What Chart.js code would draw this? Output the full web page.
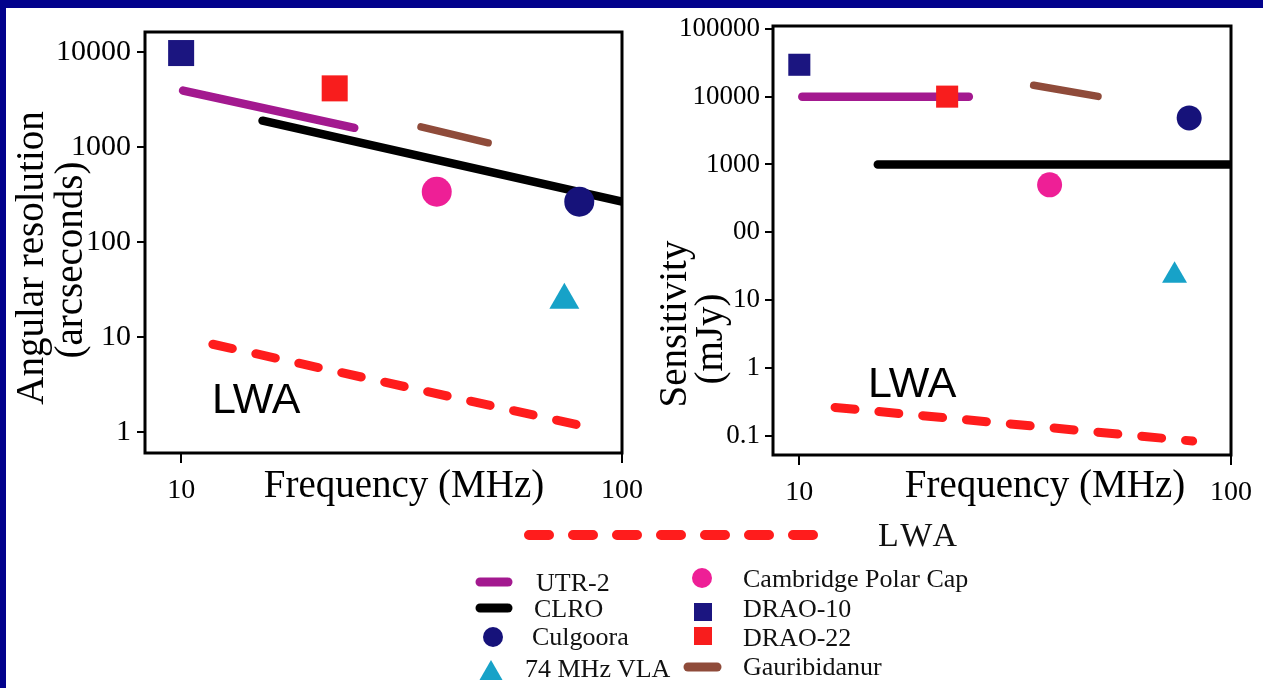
<!DOCTYPE html>
<html>
<head>
<meta charset="utf-8">
<script src="https://cdn.jsdelivr.net/npm/chart.js@4.4.1/dist/chart.umd.min.js"></script>
<style>
  html, body { margin: 0; padding: 0; background: #fff; }
  body { width: 1263px; height: 688px; position: relative; overflow: hidden; }
  #resChart { position: absolute; left: 0; top: 0; }
  #sensChart { position: absolute; left: 645px; top: 0; }
  #legend { position: absolute; left: 0; top: 0; }
  .strip { position: absolute; background: #02028c; }
</style>
</head>
<body>
<canvas id="resChart" width="660" height="520"></canvas>
<canvas id="sensChart" width="618" height="520"></canvas>
<svg id="legend" width="1263" height="688" font-family="'Liberation Serif', 'Times New Roman', serif" fill="#111">
  <line x1="529" y1="535" x2="813" y2="535" stroke="#ff1c1c" stroke-width="10" stroke-linecap="round" stroke-dasharray="20 24"/>
  <text x="878" y="546" font-size="34" letter-spacing="4">LWA</text>

  <line x1="480" y1="582" x2="508" y2="582" stroke="#a3198f" stroke-width="9" stroke-linecap="round"/>
  <text x="536" y="591" font-size="26">UTR-2</text>
  <line x1="480" y1="608" x2="508" y2="608" stroke="#000" stroke-width="9" stroke-linecap="round"/>
  <text x="534" y="617" font-size="26">CLRO</text>
  <circle cx="493" cy="637" r="10" fill="#16127a"/>
  <text x="532" y="645" font-size="26">Culgoora</text>
  <polygon points="491,660 479.5,680 502.5,680" fill="#17a2c8"/>
  <text x="525" y="677" font-size="26">74 MHz VLA</text>

  <circle cx="702" cy="578" r="10" fill="#ee1f96"/>
  <text x="743" y="587" font-size="26">Cambridge Polar Cap</text>
  <rect x="694" y="603" width="18" height="18" fill="#1b1580"/>
  <text x="743" y="617" font-size="26">DRAO-10</text>
  <rect x="694" y="627" width="18" height="18" fill="#f81d1d"/>
  <text x="743" y="646" font-size="26">DRAO-22</text>
  <line x1="688" y1="667" x2="717" y2="667" stroke="#8f4b3a" stroke-width="9" stroke-linecap="round"/>
  <text x="743" y="675" font-size="26">Gauribidanur</text>
</svg>
<div class="strip" style="left:0;top:0;width:1263px;height:8px"></div>
<div class="strip" style="left:0;top:0;width:6px;height:688px"></div>
<script>
// tick values
const freqTicks = [10, 100];
const resTicks = [1, 10, 100, 1000, 10000];
const sensTicks = [0.1, 1, 10, 100, 1000, 10000, 100000];
const sensTickLabels = ['0.1', '1', '10', '00', '1000', '10000', '100000'];

// angular resolution (arcseconds) against frequency (MHz)
const resUtr2Freq = [10.1, 24.7];
const resUtr2 = [3900, 1580];
const resClroFreq = [15.3, 100];
const resClro = [1880, 264];
const resGauriFreq = [35.0, 49.7];
const resGauri = [1620, 1100];
const resLwaFreq = [11.8, 86.6];
const resLwa = [8.36, 1.086];
// single instruments: Culgoora, 74 MHz VLA, Cambridge Polar Cap, DRAO-10, DRAO-22
const resPointFreq = [80, 74, 38, 10, 22.3];
const resPoints = [264, 24.4, 336, 9670, 4110];

// sensitivity (mJy) against frequency (MHz)
const sensUtr2Freq = [10.16, 24.7];
const sensUtr2 = [10000, 10000];
const sensClroFreq = [15.2, 100];
const sensClro = [1000, 1000];
const sensGauriFreq = [34.9, 49.2];
const sensGauri = [14700, 10100];
const sensLwaFreq = [12.1, 81.5];
const sensLwa = [0.261, 0.0835];
const sensPointFreq = [80, 74, 38, 10, 22];
const sensPoints = [4850, 23, 500, 29500, 10000];

const NAVY = '#16127a', SQNAVY = '#1b1580', RED = '#f81d1d', PURPLE = '#a3198f';
const BROWN = '#8f4b3a', PINK = '#ee1f96', CYAN = '#17a2c8', LWARED = '#ff1c1c';
const SERIF = "'Liberation Serif', 'Times New Roman', serif";
const SANS = "'Liberation Sans', Arial, sans-serif";

function xy(fx, fy) {
  return fx.map((f, i) => ({ x: f, y: fy[i] }));
}

function lineSet(label, fx, fy, color, width, dash) {
  return {
    label, data: xy(fx, fy), showLine: true, borderColor: color, borderWidth: width,
    borderCapStyle: 'round', borderDash: dash || [], pointRadius: 0, order: 2
  };
}

function pointSet(label, f, v, color, style, radius) {
  return {
    label, data: [{ x: f, y: v }], showLine: false, pointStyle: style, pointRadius: radius,
    pointBackgroundColor: color, pointBorderWidth: 0, borderColor: color, order: 1
  };
}

function logAxis(min, max, ticks, labels, fontSize, tickLen, pad, fitSize, horizontal) {
  return {
    type: 'logarithmic', min, max,
    afterBuildTicks: s => { s.ticks = ticks.map(v => ({ value: v })); },
    afterFit: s => { if (horizontal) s.height = fitSize; else s.width = fitSize; },
    ticks: {
      autoSkip: false, maxRotation: 0, padding: pad, color: '#000',
      font: { family: SERIF, size: fontSize },
      callback: v => labels[ticks.indexOf(v)]
    },
    grid: { display: true, drawOnChartArea: false, drawTicks: true, tickLength: tickLen, color: '#000', lineWidth: 2 },
    border: { display: false }
  };
}

const frameAndText = {
  id: 'frameAndText',
  afterDraw(chart, args, opts) {
    const ctx = chart.ctx, a = chart.chartArea;
    ctx.save();
    ctx.strokeStyle = '#000';
    ctx.lineWidth = 3;
    ctx.strokeRect(a.left, a.top, a.right - a.left, a.bottom - a.top);
    ctx.fillStyle = '#000';
    opts.texts.forEach(t => {
      ctx.save();
      ctx.translate(t.x, t.y);
      if (t.rot) ctx.rotate(t.rot);
      ctx.font = t.font;
      ctx.textAlign = t.align || 'center';
      ctx.textBaseline = t.baseline || 'alphabetic';
      ctx.fillText(t.text, 0, 0);
      ctx.restore();
    });
    ctx.restore();
  }
};

function makeChart(id, sets, xAxis, yAxis, padding, texts) {
  return new Chart(document.getElementById(id), {
    type: 'scatter',
    data: { datasets: sets },
    options: {
      responsive: false, animation: false, devicePixelRatio: 1,
      layout: { padding },
      scales: { x: xAxis, y: yAxis },
      plugins: { legend: { display: false }, tooltip: { enabled: false }, frameAndText: { texts } }
    },
    plugins: [frameAndText]
  });
}

const pointStyles = [['Culgoora', NAVY, 'circle'], ['74 MHz VLA', CYAN, 'triangle'],
  ['Cambridge Polar Cap', PINK, 'circle'], ['DRAO-10', SQNAVY, 'rect'], ['DRAO-22', RED, 'rect']];

const resSets = pointStyles.map((p, i) =>
  pointSet(p[0], resPointFreq[i], resPoints[i], p[1], p[2], [15, 17.3, 15, 18.4, 18.4][i]));
resSets.push(
  lineSet('UTR-2', resUtr2Freq, resUtr2, PURPLE, 8.5),
  lineSet('CLRO', resClroFreq, resClro, '#000', 8.5),
  lineSet('Gauribidanur', resGauriFreq, resGauri, BROWN, 7.5),
  lineSet('LWA', resLwaFreq, resLwa, LWARED, 9, [20, 24])
);

makeChart('resChart', resSets,
  logAxis(8.28, 100, freqTicks, ['10', '100'], 28, 10, 11, 67, true),
  logAxis(0.6, 16100, resTicks, ['1', '10', '100', '1000', '10000'], 30, 8, 6, 145, false),
  { top: 32, right: 38, left: 0, bottom: 0 },
  [
    { text: 'Angular resolution', x: 33, y: 258, rot: -Math.PI / 2, font: '39px ' + SERIF, baseline: 'middle' },
    { text: '(arcseconds)', x: 72, y: 260, rot: -Math.PI / 2, font: '39px ' + SERIF, baseline: 'middle' },
    { text: 'Frequency (MHz)', x: 404, y: 497, font: '39px ' + SERIF },
    { text: 'LWA', x: 212, y: 413, align: 'left', font: '43px ' + SANS }
  ]);

const sensSets = pointStyles.map((p, i) =>
  pointSet(p[0], sensPointFreq[i], sensPoints[i], p[1], p[2], [12.5, 14.4, 12.5, 15.6, 15.6][i]));
sensSets.push(
  lineSet('UTR-2', sensUtr2Freq, sensUtr2, PURPLE, 8.5),
  lineSet('CLRO', sensClroFreq, sensClro, '#000', 8.5),
  lineSet('Gauribidanur', sensGauriFreq, sensGauri, BROWN, 7.5),
  lineSet('LWA', sensLwaFreq, sensLwa, LWARED, 9, [20, 24])
);

makeChart('sensChart', sensSets,
  logAxis(8.69, 100, freqTicks, ['10', '100'], 28, 10, 11, 65, true),
  logAxis(0.052, 110000, sensTicks, sensTickLabels, 27, 8, 5, 128, false),
  { top: 26, right: 23, left: 0, bottom: 0 },
  [
    { text: 'Sensitivity', x: 31, y: 324, rot: -Math.PI / 2, font: '39px ' + SERIF, baseline: 'middle' },
    { text: '(mJy)', x: 67, y: 339, rot: -Math.PI / 2, font: '39px ' + SERIF, baseline: 'middle' },
    { text: 'Frequency (MHz)', x: 400, y: 497, font: '39px ' + SERIF },
    { text: 'LWA', x: 223, y: 397, align: 'left', font: '43px ' + SANS }
  ]);
</script>
</body>
</html>
